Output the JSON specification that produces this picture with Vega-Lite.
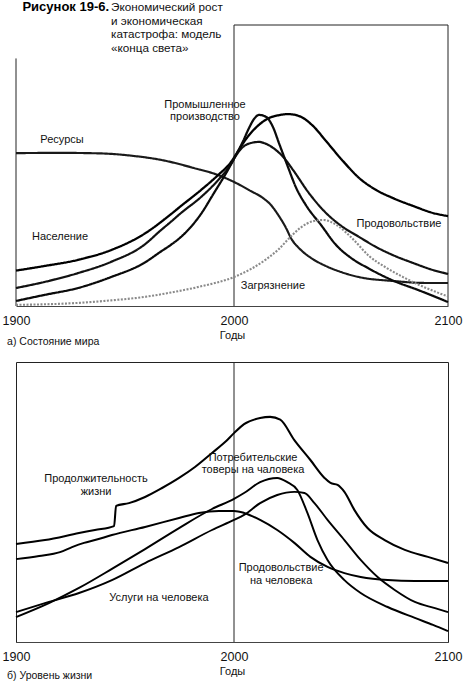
{
  "$schema": "https://vega.github.io/schema/vega-lite/v6.json",
  "padding": {"left": 1, "top": 0, "right": 0, "bottom": 0},
  "background": "white",
  "config": {
    "view": {"stroke": null},
    "font": "Liberation Sans",
    "axisX": {
      "tickCount": 2, "format": "d", "ticks": false, "grid": false,
      "labelPadding": 8, "labelFontSize": 12.5, "labelColor": "#111", "labelFlush": false, "labelOverlap": false,
      "domainColor": "#444", "domainWidth": 1,
      "titleFontSize": 11, "titleFontWeight": "normal", "titleColor": "#111", "titlePadding": 3
    }
  },
  "bounds": "flush",
  "spacing": 56,
  "datasets": {
    "world": [
      {"series": "Ресурсы", "year": 1900, "value": 54.4},
      {"series": "Ресурсы", "year": 1920, "value": 54.5},
      {"series": "Ресурсы", "year": 1939, "value": 54.3},
      {"series": "Ресурсы", "year": 1954, "value": 53.4},
      {"series": "Ресурсы", "year": 1966.5, "value": 52.0},
      {"series": "Ресурсы", "year": 1981.6, "value": 49.1},
      {"series": "Ресурсы", "year": 1992.7, "value": 46.6},
      {"series": "Ресурсы", "year": 2000.9, "value": 43.8},
      {"series": "Ресурсы", "year": 2007.9, "value": 40.9},
      {"series": "Ресурсы", "year": 2013.6, "value": 38.4},
      {"series": "Ресурсы", "year": 2017.3, "value": 35.9},
      {"series": "Ресурсы", "year": 2021.0, "value": 32.0},
      {"series": "Ресурсы", "year": 2024.3, "value": 27.8},
      {"series": "Ресурсы", "year": 2026.6, "value": 24.2},
      {"series": "Ресурсы", "year": 2031.3, "value": 19.9},
      {"series": "Ресурсы", "year": 2036.0, "value": 17.1},
      {"series": "Ресурсы", "year": 2043.0, "value": 14.2},
      {"series": "Ресурсы", "year": 2050.0, "value": 12.1},
      {"series": "Ресурсы", "year": 2058.4, "value": 10.3},
      {"series": "Ресурсы", "year": 2074.3, "value": 8.9},
      {"series": "Ресурсы", "year": 2089.7, "value": 8.2},
      {"series": "Ресурсы", "year": 2100, "value": 8.2},
      {"series": "Население", "year": 1900, "value": 12.6},
      {"series": "Население", "year": 1912.8, "value": 14.2},
      {"series": "Население", "year": 1928.4, "value": 16.4},
      {"series": "Население", "year": 1943.6, "value": 19.9},
      {"series": "Население", "year": 1958.7, "value": 25.6},
      {"series": "Население", "year": 1971.1, "value": 32.7},
      {"series": "Население", "year": 1975.7, "value": 35.6},
      {"series": "Население", "year": 1984.9, "value": 41.3},
      {"series": "Население", "year": 1992.7, "value": 46.6},
      {"series": "Население", "year": 1998.6, "value": 51.2},
      {"series": "Население", "year": 2000.9, "value": 53.9},
      {"series": "Население", "year": 2005.6, "value": 59.4},
      {"series": "Население", "year": 2011.7, "value": 64.5},
      {"series": "Население", "year": 2016.4, "value": 66.9},
      {"series": "Население", "year": 2021.0, "value": 67.9},
      {"series": "Население", "year": 2025.2, "value": 68.3},
      {"series": "Население", "year": 2030.4, "value": 67.6},
      {"series": "Население", "year": 2036.9, "value": 64.1},
      {"series": "Население", "year": 2043.0, "value": 58.7},
      {"series": "Население", "year": 2050.9, "value": 51.6},
      {"series": "Население", "year": 2058.4, "value": 45.6},
      {"series": "Население", "year": 2066.4, "value": 41.3},
      {"series": "Население", "year": 2074.3, "value": 38.4},
      {"series": "Население", "year": 2083.7, "value": 35.6},
      {"series": "Население", "year": 2093.0, "value": 33.1},
      {"series": "Население", "year": 2100, "value": 32.0},
      {"series": "Продовольствие", "year": 1900, "value": 6.4},
      {"series": "Продовольствие", "year": 1912.8, "value": 8.5},
      {"series": "Продовольствие", "year": 1928.4, "value": 11.7},
      {"series": "Продовольствие", "year": 1943.6, "value": 15.7},
      {"series": "Продовольствие", "year": 1958.7, "value": 21.7},
      {"series": "Продовольствие", "year": 1966.5, "value": 27.0},
      {"series": "Продовольствие", "year": 1971.1, "value": 30.0},
      {"series": "Продовольствие", "year": 1975.7, "value": 33.1},
      {"series": "Продовольствие", "year": 1984.9, "value": 38.8},
      {"series": "Продовольствие", "year": 1992.7, "value": 44.8},
      {"series": "Продовольствие", "year": 1998.6, "value": 50.5},
      {"series": "Продовольствие", "year": 2000.9, "value": 53.5},
      {"series": "Продовольствие", "year": 2004.2, "value": 56.6},
      {"series": "Продовольствие", "year": 2007.9, "value": 58.0},
      {"series": "Продовольствие", "year": 2011.7, "value": 58.4},
      {"series": "Продовольствие", "year": 2015.0, "value": 57.7},
      {"series": "Продовольствие", "year": 2019.6, "value": 55.5},
      {"series": "Продовольствие", "year": 2023.4, "value": 52.7},
      {"series": "Продовольствие", "year": 2027.6, "value": 48.4},
      {"series": "Продовольствие", "year": 2035.0, "value": 40.2},
      {"series": "Продовольствие", "year": 2043.0, "value": 33.1},
      {"series": "Продовольствие", "year": 2050.9, "value": 28.1},
      {"series": "Продовольствие", "year": 2058.4, "value": 24.6},
      {"series": "Продовольствие", "year": 2066.4, "value": 21.0},
      {"series": "Продовольствие", "year": 2074.3, "value": 18.1},
      {"series": "Продовольствие", "year": 2083.7, "value": 15.3},
      {"series": "Продовольствие", "year": 2093.0, "value": 12.8},
      {"series": "Продовольствие", "year": 2100, "value": 11.4},
      {"series": "Промышленное производство", "year": 1900, "value": 1.8},
      {"series": "Промышленное производство", "year": 1912.8, "value": 3.9},
      {"series": "Промышленное производство", "year": 1928.4, "value": 6.4},
      {"series": "Промышленное производство", "year": 1943.6, "value": 10.3},
      {"series": "Промышленное производство", "year": 1958.7, "value": 15.3},
      {"series": "Промышленное производство", "year": 1966.5, "value": 19.4},
      {"series": "Промышленное производство", "year": 1971.1, "value": 21.8},
      {"series": "Промышленное производство", "year": 1975.7, "value": 24.6},
      {"series": "Промышленное производство", "year": 1984.9, "value": 32.8},
      {"series": "Промышленное производство", "year": 1990.8, "value": 40.2},
      {"series": "Промышленное производство", "year": 1997.2, "value": 48.4},
      {"series": "Промышленное производство", "year": 2000.9, "value": 53.7},
      {"series": "Промышленное производство", "year": 2004.2, "value": 58.6},
      {"series": "Промышленное производство", "year": 2007.0, "value": 63.3},
      {"series": "Промышленное производство", "year": 2009.3, "value": 66.5},
      {"series": "Промышленное производство", "year": 2011.7, "value": 68.0},
      {"series": "Промышленное производство", "year": 2015.0, "value": 67.3},
      {"series": "Промышленное производство", "year": 2018.2, "value": 63.7},
      {"series": "Промышленное производство", "year": 2021.0, "value": 58.0},
      {"series": "Промышленное производство", "year": 2025.2, "value": 49.5},
      {"series": "Промышленное производство", "year": 2028.9, "value": 42.3},
      {"series": "Промышленное производство", "year": 2033.6, "value": 35.9},
      {"series": "Промышленное производство", "year": 2040.7, "value": 28.8},
      {"series": "Промышленное производство", "year": 2047.7, "value": 21.7},
      {"series": "Промышленное производство", "year": 2054.7, "value": 17.1},
      {"series": "Промышленное производство", "year": 2062.6, "value": 13.5},
      {"series": "Промышленное производство", "year": 2074.8, "value": 8.9},
      {"series": "Промышленное производство", "year": 2086.0, "value": 5.7},
      {"series": "Промышленное производство", "year": 2093.0, "value": 3.6},
      {"series": "Промышленное производство", "year": 2100, "value": 1.4},
      {"series": "Загрязнение", "year": 1900, "value": 0.4},
      {"series": "Загрязнение", "year": 1928.4, "value": 1.1},
      {"series": "Загрязнение", "year": 1943.6, "value": 2.0},
      {"series": "Загрязнение", "year": 1958.7, "value": 3.2},
      {"series": "Загрязнение", "year": 1971.1, "value": 4.8},
      {"series": "Загрязнение", "year": 1984.9, "value": 7.0},
      {"series": "Загрязнение", "year": 2000, "value": 10.3},
      {"series": "Загрязнение", "year": 2008.0, "value": 13.2},
      {"series": "Загрязнение", "year": 2015.0, "value": 16.6},
      {"series": "Загрязнение", "year": 2021.0, "value": 20.3},
      {"series": "Загрязнение", "year": 2026.0, "value": 24.3},
      {"series": "Загрязнение", "year": 2031.0, "value": 27.8},
      {"series": "Загрязнение", "year": 2037.0, "value": 30.2},
      {"series": "Загрязнение", "year": 2042.0, "value": 30.6},
      {"series": "Загрязнение", "year": 2048.0, "value": 28.8},
      {"series": "Загрязнение", "year": 2055.6, "value": 23.8},
      {"series": "Загрязнение", "year": 2063.1, "value": 17.8},
      {"series": "Загрязнение", "year": 2071.0, "value": 13.7},
      {"series": "Загрязнение", "year": 2079.0, "value": 10.3},
      {"series": "Загрязнение", "year": 2086.5, "value": 7.5},
      {"series": "Загрязнение", "year": 2094.4, "value": 5.0},
      {"series": "Загрязнение", "year": 2100, "value": 3.4}
    ],
    "living": [
      {"series": "Продолжительность жизни", "year": 1900, "value": 35.0},
      {"series": "Продолжительность жизни", "year": 1913.3, "value": 36.4},
      {"series": "Продолжительность жизни", "year": 1928.9, "value": 38.9},
      {"series": "Продолжительность жизни", "year": 1936.2, "value": 40.0},
      {"series": "Продолжительность жизни", "year": 1945.0, "value": 41.4},
      {"series": "Продолжительность жизни", "year": 1945.9, "value": 48.6},
      {"series": "Продолжительность жизни", "year": 1951.8, "value": 49.6},
      {"series": "Продолжительность жизни", "year": 1959.2, "value": 51.8},
      {"series": "Продолжительность жизни", "year": 1967.0, "value": 55.0},
      {"series": "Продолжительность жизни", "year": 1974.8, "value": 58.6},
      {"series": "Продолжительность жизни", "year": 1982.1, "value": 62.5},
      {"series": "Продолжительность жизни", "year": 1989.9, "value": 67.5},
      {"series": "Продолжительность жизни", "year": 1995.9, "value": 71.4},
      {"series": "Продолжительность жизни", "year": 2000, "value": 74.6},
      {"series": "Продолжительность жизни", "year": 2004.7, "value": 77.8},
      {"series": "Продолжительность жизни", "year": 2012.2, "value": 80.0},
      {"series": "Продолжительность жизни", "year": 2016.9, "value": 80.4},
      {"series": "Продолжительность жизни", "year": 2021.6, "value": 79.4},
      {"series": "Продолжительность жизни", "year": 2028.2, "value": 72.1},
      {"series": "Продолжительность жизни", "year": 2035.7, "value": 65.0},
      {"series": "Продолжительность жизни", "year": 2042.3, "value": 58.6},
      {"series": "Продолжительность жизни", "year": 2045.1, "value": 56.8},
      {"series": "Продолжительность жизни", "year": 2048.4, "value": 56.1},
      {"series": "Продолжительность жизни", "year": 2051.6, "value": 53.6},
      {"series": "Продолжительность жизни", "year": 2056.3, "value": 47.1},
      {"series": "Продолжительность жизни", "year": 2062.4, "value": 40.7},
      {"series": "Продолжительность жизни", "year": 2070.4, "value": 36.4},
      {"series": "Продолжительность жизни", "year": 2079.8, "value": 32.9},
      {"series": "Продолжительность жизни", "year": 2090.6, "value": 30.4},
      {"series": "Продолжительность жизни", "year": 2100, "value": 28.2},
      {"series": "Продовольствие на человека", "year": 1900, "value": 29.6},
      {"series": "Продовольствие на человека", "year": 1910.6, "value": 30.7},
      {"series": "Продовольствие на человека", "year": 1920.2, "value": 32.1},
      {"series": "Продовольствие на человека", "year": 1925.7, "value": 33.9},
      {"series": "Продовольствие на человека", "year": 1931.2, "value": 35.4},
      {"series": "Продовольствие на человека", "year": 1936.2, "value": 36.4},
      {"series": "Продовольствие на человека", "year": 1944.0, "value": 38.2},
      {"series": "Продовольствие на человека", "year": 1959.2, "value": 41.1},
      {"series": "Продовольствие на человека", "year": 1974.8, "value": 44.3},
      {"series": "Продовольствие на человека", "year": 1983.9, "value": 46.1},
      {"series": "Продовольствие на человека", "year": 1993.1, "value": 46.8},
      {"series": "Продовольствие на человека", "year": 2000, "value": 46.8},
      {"series": "Продовольствие на человека", "year": 2004.7, "value": 46.1},
      {"series": "Продовольствие на человека", "year": 2012.2, "value": 43.6},
      {"series": "Продовольствие на человека", "year": 2020.2, "value": 40.0},
      {"series": "Продовольствие на человека", "year": 2028.2, "value": 35.4},
      {"series": "Продовольствие на человека", "year": 2035.7, "value": 30.4},
      {"series": "Продовольствие на человека", "year": 2043.7, "value": 26.8},
      {"series": "Продовольствие на человека", "year": 2051.6, "value": 24.6},
      {"series": "Продовольствие на человека", "year": 2059.2, "value": 23.2},
      {"series": "Продовольствие на человека", "year": 2071.8, "value": 22.1},
      {"series": "Продовольствие на человека", "year": 2084.5, "value": 21.8},
      {"series": "Продовольствие на человека", "year": 2100, "value": 21.8},
      {"series": "Потребительские товары на человека", "year": 1900, "value": 8.9},
      {"series": "Потребительские товары на человека", "year": 1915.1, "value": 13.9},
      {"series": "Потребительские товары на человека", "year": 1928.9, "value": 19.3},
      {"series": "Потребительские товары на человека", "year": 1944.0, "value": 26.1},
      {"series": "Потребительские товары на человека", "year": 1959.2, "value": 33.2},
      {"series": "Потребительские товары на человека", "year": 1974.8, "value": 40.7},
      {"series": "Потребительские товары на человека", "year": 1989.9, "value": 47.5},
      {"series": "Потребительские товары на человека", "year": 2000, "value": 51.1},
      {"series": "Потребительские товары на человека", "year": 2004.7, "value": 53.2},
      {"series": "Потребительские товары на человека", "year": 2012.2, "value": 57.1},
      {"series": "Потребительские товары на человека", "year": 2020.2, "value": 58.6},
      {"series": "Потребительские товары на человека", "year": 2024.9, "value": 57.1},
      {"series": "Потребительские товары на человека", "year": 2029.6, "value": 54.3},
      {"series": "Потребительские товары на человека", "year": 2034.3, "value": 46.1},
      {"series": "Потребительские товары на человека", "year": 2039.0, "value": 36.4},
      {"series": "Потребительские товары на человека", "year": 2043.7, "value": 29.3},
      {"series": "Потребительские товары на человека", "year": 2051.6, "value": 22.1},
      {"series": "Потребительские товары на человека", "year": 2059.2, "value": 17.5},
      {"series": "Потребительские товары на человека", "year": 2071.8, "value": 12.5},
      {"series": "Потребительские товары на человека", "year": 2084.5, "value": 8.6},
      {"series": "Потребительские товары на человека", "year": 2093.0, "value": 6.1},
      {"series": "Потребительские товары на человека", "year": 2100, "value": 3.9},
      {"series": "Услуги на человека", "year": 1900, "value": 10.7},
      {"series": "Услуги на человека", "year": 1915.1, "value": 14.3},
      {"series": "Услуги на человека", "year": 1928.9, "value": 17.5},
      {"series": "Услуги на человека", "year": 1944.0, "value": 22.1},
      {"series": "Услуги на человека", "year": 1959.2, "value": 28.2},
      {"series": "Услуги на человека", "year": 1974.8, "value": 33.9},
      {"series": "Услуги на человека", "year": 1989.9, "value": 40.0},
      {"series": "Услуги на человека", "year": 2000, "value": 43.6},
      {"series": "Услуги на человека", "year": 2004.7, "value": 45.4},
      {"series": "Услуги на человека", "year": 2012.2, "value": 49.6},
      {"series": "Услуги на человека", "year": 2020.2, "value": 52.5},
      {"series": "Услуги на человека", "year": 2028.2, "value": 53.6},
      {"series": "Услуги на человека", "year": 2032.9, "value": 53.2},
      {"series": "Услуги на человека", "year": 2037.6, "value": 49.6},
      {"series": "Услуги на человека", "year": 2043.7, "value": 43.6},
      {"series": "Услуги на человека", "year": 2051.6, "value": 36.4},
      {"series": "Услуги на человека", "year": 2059.2, "value": 29.3},
      {"series": "Услуги на человека", "year": 2067.1, "value": 23.2},
      {"series": "Услуги на человека", "year": 2075.1, "value": 18.6},
      {"series": "Услуги на человека", "year": 2084.5, "value": 14.3},
      {"series": "Услуги на человека", "year": 2093.9, "value": 12.1},
      {"series": "Услуги на человека", "year": 2100, "value": 10.7}
    ],
    "worldLabels": [
      {"text": "Ресурсы", "year": 1921.1, "value": 59.1},
      {"text": "Население", "year": 1920.2, "value": 24.6},
      {"text": "Промышленное", "year": 1986.7, "value": 71.4},
      {"text": "производство", "year": 1986.7, "value": 67.4},
      {"text": "Продовольствие", "year": 2077.1, "value": 29.2},
      {"text": "Загрязнение", "year": 2018.2, "value": 7.1}
    ],
    "livingLabels": [
      {"text": "Продолжительность", "year": 1936.7, "value": 58.2},
      {"text": "жизни", "year": 1936.7, "value": 53.6},
      {"text": "Потребительские", "year": 2008.9, "value": 65.7},
      {"text": "товеры на чаловека", "year": 2008.9, "value": 61.4},
      {"text": "Продовольствие", "year": 2022.0, "value": 26.4},
      {"text": "на человека", "year": 2022.0, "value": 21.8},
      {"text": "Услуги на человека", "year": 1965.6, "value": 15.7}
    ],
    "heading": [
      {"text": "Экономический рост", "year": 1943.6, "value": 106.3},
      {"text": "и экономическая", "year": 1943.6, "value": 101.5},
      {"text": "катастрофа: модель", "year": 1943.6, "value": 96.7},
      {"text": "«конца света»", "year": 1943.6, "value": 91.7}
    ],
    "one": [{}]
  },
  "vconcat": [
    {
      "width": 432,
      "height": 306,
      "layer": [
        {
          "data": {"name": "one"},
          "mark": {"type": "rule", "color": "#222", "strokeWidth": 1},
          "encoding": {
            "x": {"datum": 2000, "type": "quantitative", "title": "Годы"},
            "y": {"datum": 0, "type": "quantitative", "axis": null},
            "y2": {"datum": 100}
          }
        },
        {
          "data": {"name": "one"},
          "mark": {"type": "rule", "color": "#222", "strokeWidth": 1},
          "encoding": {
            "x": {"datum": 2100, "type": "quantitative", "title": "Годы"},
            "y": {"datum": 0, "type": "quantitative", "axis": null},
            "y2": {"datum": 100}
          }
        },
        {
          "data": {"name": "one"},
          "mark": {"type": "rule", "color": "#222", "strokeWidth": 1},
          "encoding": {
            "x": {"datum": 1900, "type": "quantitative", "title": "Годы"},
            "y": {"datum": 0, "type": "quantitative", "axis": null},
            "y2": {"datum": 88.1}
          }
        },
        {
          "data": {"name": "one"},
          "mark": {"type": "rule", "color": "#222", "strokeWidth": 1},
          "encoding": {
            "x": {"datum": 2000, "type": "quantitative", "title": "Годы"},
            "x2": {"datum": 2100},
            "y": {"datum": 100, "type": "quantitative", "axis": null}
          }
        },
        {
          "data": {"name": "world"},
          "mark": {"type": "line", "interpolate": "monotone"},
          "encoding": {
            "x": {
              "field": "year", "type": "quantitative", "title": "Годы",
              "scale": {"domain": [1900, 2000, 2100], "range": [0, 218, 432], "nice": false, "zero": false}
            },
            "y": {
              "field": "value", "type": "quantitative",
              "scale": {"domain": [0, 108.9], "nice": false, "zero": false},
              "axis": null
            },
            "detail": {"field": "series"},
            "color": {
              "field": "series", "type": "nominal", "legend": null,
              "scale": {
                "domain": ["Население", "Промышленное производство", "Продовольствие", "Ресурсы", "Загрязнение"],
                "range": ["#000000", "#0a0a0a", "#111111", "#1a1a1a", "#8a8a8a"]
              }
            },
            "strokeWidth": {
              "field": "series", "type": "nominal", "legend": null,
              "scale": {
                "domain": ["Население", "Промышленное производство", "Продовольствие", "Ресурсы", "Загрязнение"],
                "range": [2.3, 1.9, 1.3, 1.6, 1.1]
              }
            },
            "strokeDash": {
              "field": "series", "type": "nominal", "legend": null,
              "scale": {
                "domain": ["Население", "Промышленное производство", "Продовольствие", "Ресурсы", "Загрязнение"],
                "range": [[1, 0], [1, 0], [1, 0], [1, 0], [2, 1.5]]
              }
            }
          }
        },
        {
          "data": {"name": "worldLabels"},
          "mark": {"type": "text", "fontSize": 11, "align": "center", "baseline": "middle", "color": "#111"},
          "encoding": {
            "x": {"field": "year", "type": "quantitative", "title": "Годы"},
            "y": {"field": "value", "type": "quantitative", "axis": null},
            "text": {"field": "text"}
          }
        },
        {
          "data": {"name": "heading"},
          "mark": {"type": "text", "fontSize": 11.7, "align": "left", "baseline": "middle", "color": "#111"},
          "encoding": {
            "x": {"field": "year", "type": "quantitative", "title": "Годы"},
            "y": {"field": "value", "type": "quantitative", "axis": null},
            "text": {"field": "text"}
          }
        },
        {
          "data": {"values": [{"text": "Рисунок  19-6.", "year": 1942.7, "value": 106.3}]},
          "mark": {"type": "text", "fontSize": 13, "fontWeight": "bold", "align": "right", "baseline": "middle", "color": "#000"},
          "encoding": {
            "x": {"field": "year", "type": "quantitative", "title": "Годы"},
            "y": {"field": "value", "type": "quantitative", "axis": null},
            "text": {"field": "text"}
          }
        },
        {
          "data": {"values": [{"text": "а)  Состояние мира", "year": 1895.9, "value": -12.8}]},
          "mark": {"type": "text", "fontSize": 10.5, "align": "left", "baseline": "middle", "color": "#111"},
          "encoding": {
            "x": {"field": "year", "type": "quantitative", "title": "Годы"},
            "y": {"field": "value", "type": "quantitative", "axis": null},
            "text": {"field": "text"}
          }
        }
      ]
    },
    {
      "width": 432,
      "height": 280,
      "view": {"stroke": "#222", "strokeWidth": 1},
      "layer": [
        {
          "data": {"name": "one"},
          "mark": {"type": "rule", "color": "#222", "strokeWidth": 1},
          "encoding": {
            "x": {"datum": 2000, "type": "quantitative", "title": "Годы"},
            "y": {"datum": 0, "type": "quantitative", "axis": null},
            "y2": {"datum": 100}
          }
        },
        {
          "data": {"name": "living"},
          "mark": {"type": "line", "interpolate": "monotone"},
          "encoding": {
            "x": {
              "field": "year", "type": "quantitative", "title": "Годы",
              "scale": {"domain": [1900, 2000, 2100], "range": [0, 218, 432], "nice": false, "zero": false}
            },
            "y": {
              "field": "value", "type": "quantitative",
              "scale": {"domain": [0, 100], "nice": false, "zero": false},
              "axis": null
            },
            "detail": {"field": "series"},
            "strokeWidth": {
              "field": "series", "type": "nominal", "legend": null,
              "scale": {
                "domain": ["Продолжительность жизни", "Продовольствие на человека", "Потребительские товары на человека", "Услуги на человека"],
                "range": [2.3, 1.8, 1.3, 1.1]
              }
            },
            "color": {"value": "#000"}
          }
        },
        {
          "data": {"name": "livingLabels"},
          "mark": {"type": "text", "fontSize": 11, "align": "center", "baseline": "middle", "color": "#111"},
          "encoding": {
            "x": {"field": "year", "type": "quantitative", "title": "Годы"},
            "y": {"field": "value", "type": "quantitative", "axis": null},
            "text": {"field": "text"}
          }
        },
        {
          "data": {"values": [{"text": "б)  Уровень жизни", "year": 1895.9, "value": -12.1}]},
          "mark": {"type": "text", "fontSize": 10.5, "align": "left", "baseline": "middle", "color": "#111"},
          "encoding": {
            "x": {"field": "year", "type": "quantitative", "title": "Годы"},
            "y": {"field": "value", "type": "quantitative", "axis": null},
            "text": {"field": "text"}
          }
        }
      ]
    }
  ]
}
